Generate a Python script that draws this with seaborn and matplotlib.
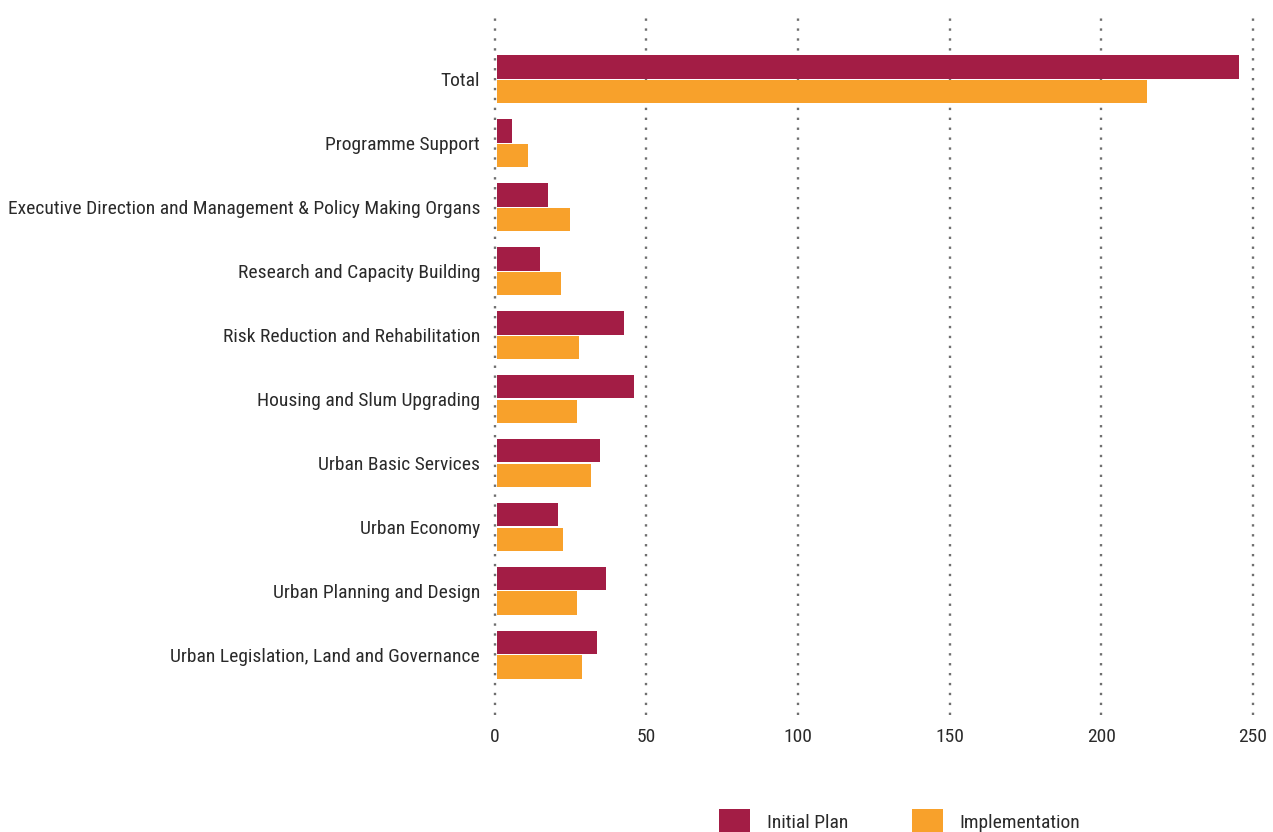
import matplotlib
matplotlib.use("Agg")
import matplotlib.pyplot as plt
import matplotlib.patches as mpatches
from matplotlib import font_manager
import seaborn as sns
import pandas as pd

categories = [
    "Total",
    "Programme Support",
    "Executive Direction and Management & Policy Making Organs",
    "Research and Capacity Building",
    "Risk Reduction and Rehabilitation",
    "Housing and Slum Upgrading",
    "Urban Basic Services",
    "Urban Economy",
    "Urban Planning and Design",
    "Urban Legislation, Land and Governance",
]
initial_plan = [244.7, 4.9, 16.8, 14.2, 41.9, 45.2, 34.0, 20.1, 35.9, 33.0]
implementation = [214.4, 10.2, 24.1, 21.1, 27.0, 26.4, 31.0, 21.8, 26.4, 28.0]
series_names = ["Initial Plan", "Implementation"]
x_ticks = [0, 50, 100, 150, 200, 250]
colors = ["#A31D45", "#F8A12B"]

df = pd.DataFrame({
    "category": categories * 2,
    "value": initial_plan + implementation,
    "series": [series_names[0]] * len(categories) + [series_names[1]] * len(categories),
})

sns.set_theme(style="white")
avail = {f.name for f in font_manager.fontManager.ttflist}
fam = [f for f in ["Roboto Condensed", "Liberation Sans Narrow", "Roboto", "DejaVu Sans"] if f in avail]
plt.rcParams["font.family"] = fam

FS = 14.0
fig = plt.figure(figsize=(12.73, 8.32), dpi=100)
ax = fig.add_axes([494.7 / 1273, 1 - 715 / 832, (1253 - 494.7) / 1273, (715 - 14) / 832])

sns.barplot(data=df, y="category", x="value", hue="series", order=categories,
            hue_order=series_names, palette=colors, orient="h", width=0.76, gap=0.045,
            saturation=1, ax=ax, legend=False, linewidth=0)

# bars start just right of the 0 gridline, as in the reference
for p in ax.patches:
    p.set_x(p.get_x() + 0.75)

ax.set_xlim(0, 250)
ax.set_ylim(9.94, -1.02)
ax.set_xticks(x_ticks)
ax.set_xticklabels([str(t) for t in x_ticks])
ax.xaxis.grid(True, linestyle=(0, (1, 3.2)), color="#6f6f6f", linewidth=1.7)
for gl in ax.get_xgridlines():
    gl.set_clip_on(False)
ax.yaxis.grid(False)
ax.set_axisbelow(True)
for s in ax.spines.values():
    s.set_visible(False)
ax.tick_params(axis="both", length=0, labelsize=FS, colors="#2a2a2a")
ax.tick_params(axis="y", pad=10.5)
ax.tick_params(axis="x", pad=9)
ax.set_xlabel("")
ax.set_ylabel("")

handles = [mpatches.Patch(color=c, label=n, linewidth=0) for c, n in zip(colors, series_names)]
fig.legend(handles=handles, loc="center left", bbox_to_anchor=(719 / 1273, 1 - 822 / 832),
           ncol=2, frameon=False, fontsize=FS, handlelength=1.6, handleheight=1.7,
           handletextpad=0.85, columnspacing=3.3, borderpad=0, borderaxespad=0,
           labelcolor="#2a2a2a")

fig.savefig("out.png", dpi=100)
